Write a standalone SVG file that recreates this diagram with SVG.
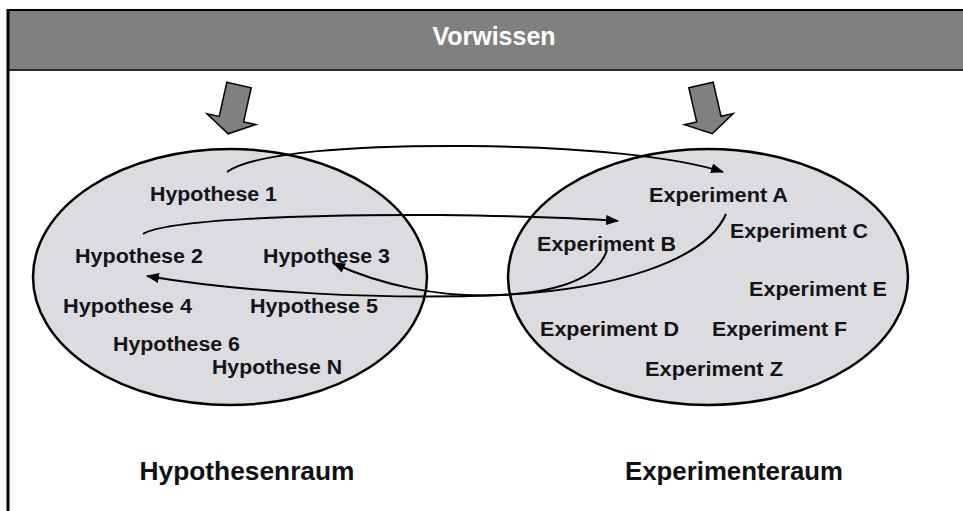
<svg xmlns="http://www.w3.org/2000/svg" width="963" height="511" viewBox="0 0 963 511">
  <style>
    .space { fill: #dcdce0; stroke: #000; stroke-width: 2.5; }
    .item { font-family: "Liberation Sans", Arial, sans-serif; font-weight: bold; font-size: 19.5px; fill: #141418; }
    .caption { font-family: "Liberation Sans", Arial, sans-serif; font-weight: bold; font-size: 26px; fill: #111; text-anchor: middle; }
    .link { fill: none; stroke: #000; stroke-width: 2; }
    .drop { fill: #808080; stroke: #000; stroke-width: 1.5; stroke-linejoin: miter; }
  </style>
  <defs>
    <marker id="tip" markerUnits="userSpaceOnUse" markerWidth="14" markerHeight="12" refX="12" refY="5" orient="auto">
      <path d="M0,0 L13,5 L0,10 Z" fill="#000"/>
    </marker>
    <path id="dropArrow" d="M-12.5,0 L12.5,0 L12.5,35 L25,35 L0,50 L-25,35 L-12.5,35 Z"/>
  </defs>

  <rect width="963" height="511" fill="#fff"/>

  <!-- header bar -->
  <g id="header">
    <rect x="8" y="10" width="960" height="60" fill="#808080"/>
    <line x1="7" y1="10" x2="963" y2="10" stroke="#000" stroke-width="2"/>
    <line x1="8" y1="70" x2="963" y2="70" stroke="#2a2a2a" stroke-width="2"/>
    <text x="494" y="45" font-family="'Liberation Sans', Arial, sans-serif" font-weight="bold" font-size="25" fill="#fff" text-anchor="middle">Vorwissen</text>
  </g>
  <line x1="8" y1="9" x2="8" y2="511" stroke="#000" stroke-width="3"/>

  <!-- downward arrows from prior knowledge -->
  <g id="drop-left"><use href="#dropArrow" class="drop" transform="translate(239,85) rotate(12.5)"/></g>
  <g id="drop-right"><use href="#dropArrow" class="drop" transform="translate(701,85) rotate(-13)"/></g>

  <!-- hypothesis space -->
  <g id="hypothesenraum">
    <ellipse class="space" cx="230" cy="277" rx="197" ry="128"/>
    <text class="caption" x="247" y="480" textLength="215" lengthAdjust="spacingAndGlyphs">Hypothesenraum</text>
  </g>
  <g id="hypothese-1"><text class="item" x="150" y="201" textLength="127" lengthAdjust="spacingAndGlyphs">Hypothese 1</text></g>
  <g id="hypothese-2"><text class="item" x="75" y="263" textLength="128" lengthAdjust="spacingAndGlyphs">Hypothese 2</text></g>
  <g id="hypothese-3"><text class="item" x="263" y="263" textLength="127" lengthAdjust="spacingAndGlyphs">Hypothese 3</text></g>
  <g id="hypothese-4"><text class="item" x="63" y="313" textLength="129" lengthAdjust="spacingAndGlyphs">Hypothese 4</text></g>
  <g id="hypothese-5"><text class="item" x="250" y="313" textLength="128" lengthAdjust="spacingAndGlyphs">Hypothese 5</text></g>
  <g id="hypothese-6"><text class="item" x="113" y="351" textLength="127" lengthAdjust="spacingAndGlyphs">Hypothese 6</text></g>
  <g id="hypothese-n"><text class="item" x="212" y="374" textLength="130" lengthAdjust="spacingAndGlyphs">Hypothese N</text></g>

  <!-- experiment space -->
  <g id="experimenteraum">
    <ellipse class="space" cx="708" cy="277" rx="200" ry="128"/>
    <text class="caption" x="734" y="480" textLength="218" lengthAdjust="spacingAndGlyphs">Experimenteraum</text>
  </g>
  <g id="experiment-a"><text class="item" x="649" y="202" textLength="139" lengthAdjust="spacingAndGlyphs">Experiment A</text></g>
  <g id="experiment-c"><text class="item" x="730" y="238" textLength="138" lengthAdjust="spacingAndGlyphs">Experiment C</text></g>
  <g id="experiment-b"><text class="item" x="537" y="251" textLength="139" lengthAdjust="spacingAndGlyphs">Experiment B</text></g>
  <g id="experiment-e"><text class="item" x="749" y="296" textLength="138" lengthAdjust="spacingAndGlyphs">Experiment E</text></g>
  <g id="experiment-d"><text class="item" x="540" y="336" textLength="139" lengthAdjust="spacingAndGlyphs">Experiment D</text></g>
  <g id="experiment-f"><text class="item" x="712" y="336" textLength="135" lengthAdjust="spacingAndGlyphs">Experiment F</text></g>
  <g id="experiment-z"><text class="item" x="645" y="376" textLength="138" lengthAdjust="spacingAndGlyphs">Experiment Z</text></g>

  <!-- connectors -->
  <g id="connectors">
    <path class="link" marker-end="url(#tip)" d="M227,172 C255,152 360,145 470,146 C590,147 680,158 723,172"/>
    <path class="link" marker-end="url(#tip)" d="M143,234 C165,220 300,214 440,215 C520,216 580,218 618,221"/>
    <path class="link" marker-end="url(#tip)" d="M726,214 C705,262 610,290 500,295 C380,300 240,292 147,276"/>
    <path class="link" marker-end="url(#tip)" d="M607,250 C598,278 560,292 500,295 C440,298 380,285 333,263"/>
  </g>
</svg>
